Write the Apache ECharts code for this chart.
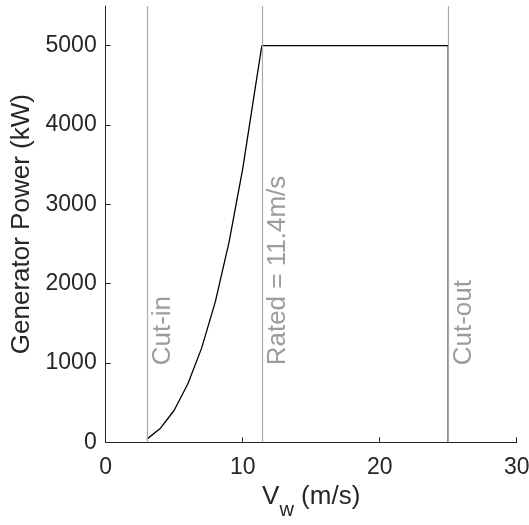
<!DOCTYPE html>
<html>
<head>
<meta charset="utf-8">
<script src="https://cdn.jsdelivr.net/npm/echarts@6/dist/echarts.min.js"></script>
<style>
  html, body { margin: 0; padding: 0; background: #fff; }
  #chart { width: 529px; height: 525px; }
</style>
</head>
<body>
<div id="chart"></div>
<script>
// Wind turbine power curve: generator power against wind speed
const windSpeed = [3, 4, 5, 6, 7, 8, 9, 10, 11, 11.4, 25, 25];
const power = [40, 178, 404, 738, 1187, 1771, 2519, 3448, 4563, 5000, 5000, 0];

// Operating limits drawn as vertical reference lines
const markerSpeeds = [3, 11.4, 25];
const markerLabels = ['Cut-in', 'Rated = 11.4m/s', 'Cut-out'];

const yTicks = [0, 1000, 2000, 3000, 4000, 5000];
const xTicks = [0, 10, 20, 30];

const FONT = '"Liberation Sans", Arial, sans-serif';
const INK = '#262626';

const chart = echarts.init(document.getElementById('chart'), null, { renderer: 'canvas' });

chart.setOption({
  animation: false,
  backgroundColor: '#fff',
  grid: { left: 105.7, right: 12.3, top: 6, bottom: 82.7, containLabel: false, outerBoundsMode: 'none' },
  xAxis: {
    type: 'value',
    min: 0, max: 30, interval: 10,
    name: '{v|V}{s|w}{v| (m/s)}',
    nameLocation: 'middle',
    nameGap: 42,
    nameTextStyle: {
      color: INK, fontFamily: FONT,
      rich: {
        v: { fontSize: 26, lineHeight: 26, verticalAlign: 'top', color: INK, fontFamily: FONT },
        // subscript "w": smaller and dropped below the baseline
        s: { fontSize: 20, lineHeight: 20, verticalAlign: 'top', padding: [16, 0, 0, 0], color: INK, fontFamily: FONT }
      }
    },
    axisLine: { show: true, lineStyle: { color: INK, width: 1 } },
    axisTick: { show: true, inside: true, length: 5, lineStyle: { color: INK }, customValues: xTicks },
    axisLabel: { color: INK, fontSize: 23, fontFamily: FONT, margin: 14, customValues: xTicks },
    splitLine: { show: false }
  },
  yAxis: {
    type: 'value',
    min: 0, max: 5500,
    name: 'Generator Power (kW)',
    nameLocation: 'middle',
    nameGap: 65,
    nameTextStyle: { color: INK, fontSize: 26, fontFamily: FONT },
    axisLine: { show: true, lineStyle: { color: INK, width: 1 } },
    axisTick: { show: true, inside: true, length: 5, lineStyle: { color: INK }, customValues: yTicks },
    axisLabel: {
      color: INK, fontSize: 23, fontFamily: FONT, margin: 9, customValues: yTicks,
      formatter: (v) => String(v)
    },
    splitLine: { show: false }
  },
  series: [
    {
      name: 'limits',
      type: 'line',
      data: [],
      silent: true,
      markLine: {
        silent: true,
        symbol: 'none',
        lineStyle: { color: '#ababab', width: 1.2, type: 'solid' },
        label: {
          show: true,
          position: 'insideStartBottom',
          distance: [77, 3],
          color: '#9c9c9c',
          fontSize: 26,
          fontFamily: FONT
        },
        emphasis: { disabled: true },
        data: markerSpeeds.map((v, i) => ({ xAxis: v, label: { formatter: markerLabels[i] } }))
      },
      z: 1
    },
    {
      name: 'power',
      type: 'line',
      data: windSpeed.map((v, i) => [v, power[i]]),
      showSymbol: false,
      symbol: 'none',
      lineStyle: { color: '#000', width: 1.3 },
      z: 3
    }
  ]
});
</script>
</body>
</html>
